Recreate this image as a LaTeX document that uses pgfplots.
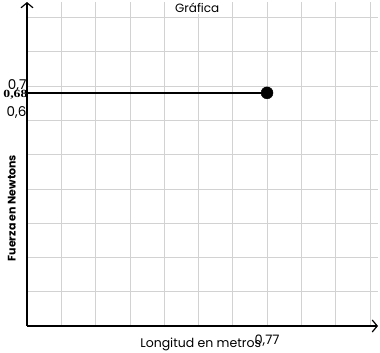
\documentclass[border=0pt]{standalone}
\usepackage{fontspec}
\setmainfont{Poppins}
\newfontfamily\serifb{Liberation Serif}
\usepackage{pgfplots}
\pgfplotsset{compat=1.18}
\usetikzlibrary{arrows.meta}
\begin{document}
\begin{tikzpicture}
\begin{axis}[
  scale only axis, width=351pt, height=324pt,
  xmin=0, xmax=1.126, ymin=0, ymax=0.945,
  axis lines=left,
  axis line style={line width=1.3pt, -{Straight Barb[length=5pt,width=12pt,line width=1.2pt]}},
  xtick={0.11,0.22,0.33,0.44,0.55,0.66,0.77,0.88,0.99,1.10},
  xticklabels={,,,,,,\mbox{0,77},,,},
  ytick={0.1,0.2,0.3,0.4,0.5,0.6,0.7,0.8,0.9},
  yticklabels={,,,,,\mbox{\raisebox{17pt}{0,6}},\mbox{\raisebox{1pt}{0,7}},,},
  extra y ticks={0.68},
  extra y tick labels={\mbox{\scalebox{1.25}[1]{\serifb\bfseries\fontsize{11}{12}\selectfont 0,68}}},
  extra y tick style={grid=none, yticklabel style={yshift=-2pt, xshift=1pt}},
  major tick length=0pt,
  xticklabel style={font=\fontsize{13}{14}\selectfont, yshift=-5pt},
  yticklabel style={font=\fontsize{13.5}{14}\selectfont, xshift=3pt},
  grid=major,
  major grid style={gray!35, line width=0.6pt},
  xlabel={Longitud en metros},
  xlabel style={at={(rel axis cs:0.495,0)}, anchor=center, yshift=-18pt, font=\fontsize{12.5}{13}\selectfont},
  ylabel={Fuerza en Newtons},
  ylabel style={at={(rel axis cs:-0.043,0.364)}, anchor=center, rotate=0, font=\bfseries\fontsize{11}{12}\selectfont},
  clip=false,
]
\addplot[black, line width=1.6pt] coordinates {(0,0.68) (0.77,0.68)};
\addplot[only marks, mark=*, mark size=6pt, black] coordinates {(0.77,0.68)};
\node[font=\fontsize{12}{13}\selectfont, fill=white, inner sep=1pt] at (rel axis cs:0.485,0.982) {Gráfica};
\end{axis}
\pgfresetboundingbox
\path[use as bounding box] (-27pt,-27pt) rectangle (353pt,326pt);
\end{tikzpicture}
\end{document}
